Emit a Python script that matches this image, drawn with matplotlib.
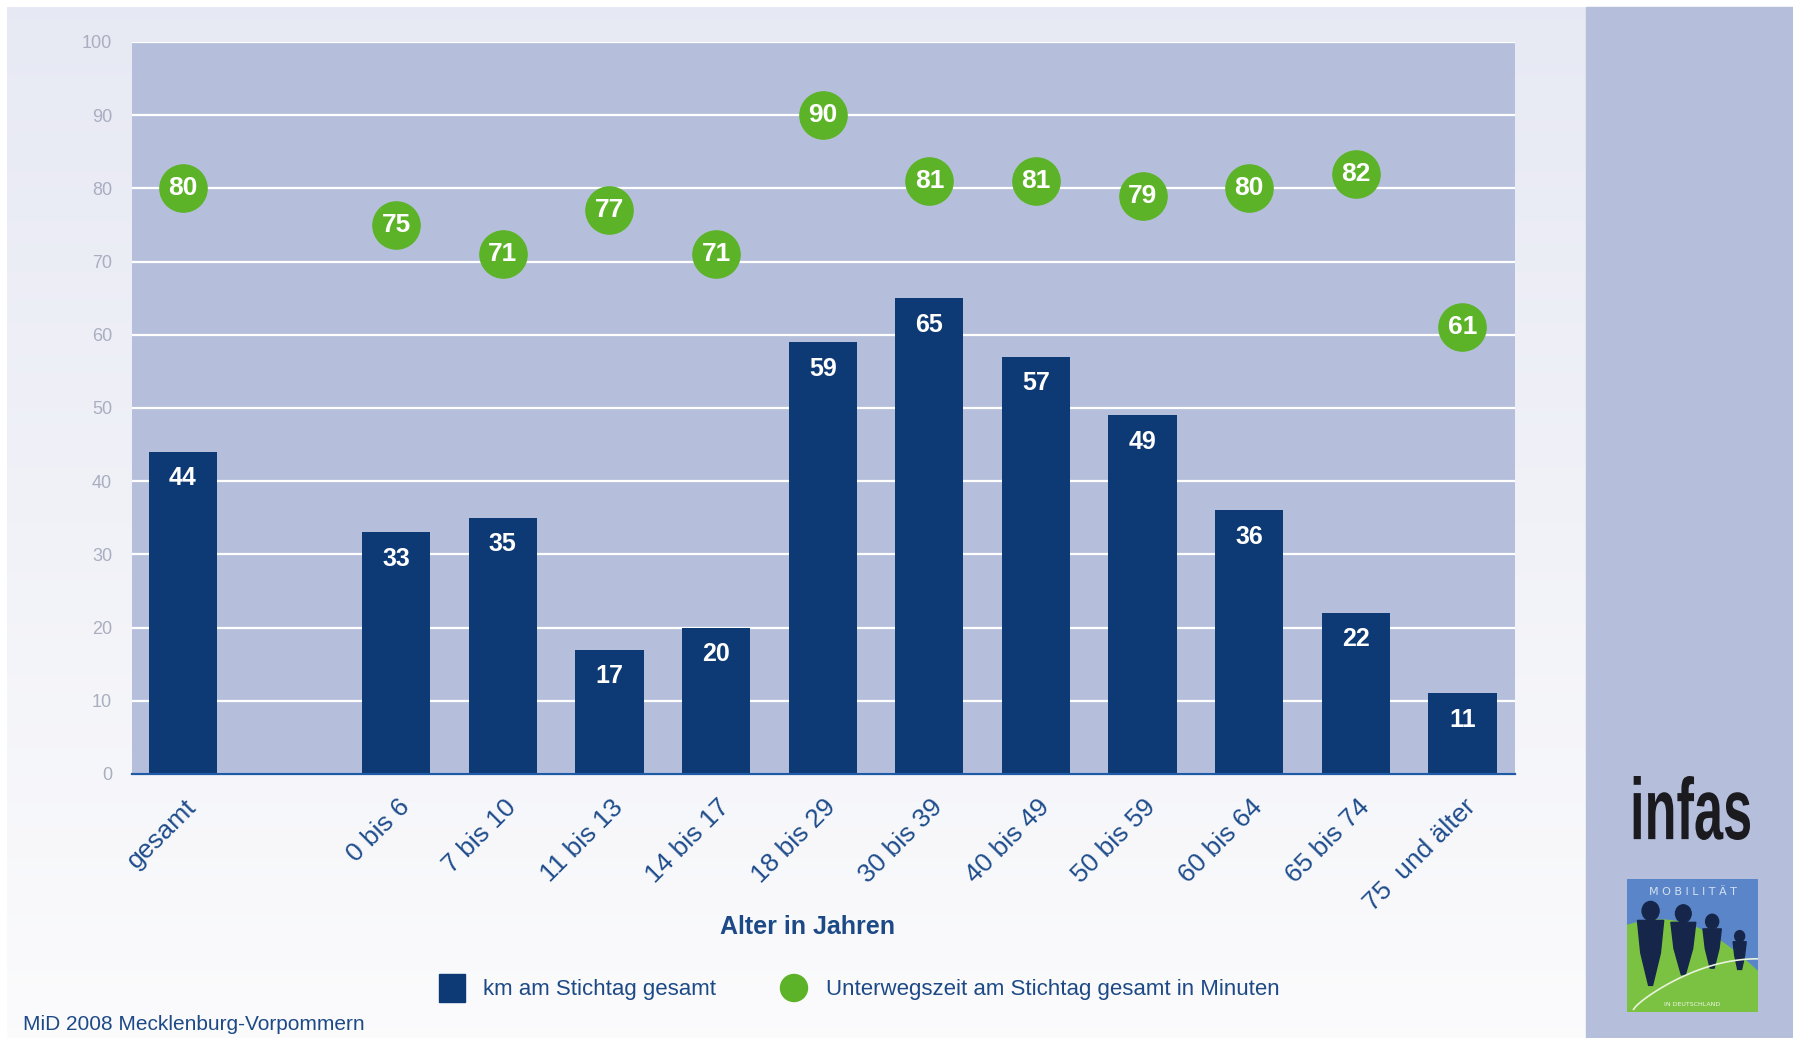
import matplotlib.pyplot as plt
import numpy as np
from matplotlib.patches import Rectangle, Ellipse, Polygon, PathPatch
from matplotlib.textpath import TextPath
from matplotlib.font_manager import FontProperties
from matplotlib.path import Path
import matplotlib.transforms as mtransforms

# Mobilitaet in Deutschland 2008, Mecklenburg-Vorpommern
categories = ["gesamt", "0 bis 6", "7 bis 10", "11 bis 13", "14 bis 17", "18 bis 29",
              "30 bis 39", "40 bis 49", "50 bis 59", "60 bis 64", "65 bis 74", "75  und älter"]
slots = [0, 2, 3, 4, 5, 6, 7, 8, 9, 10, 11, 12]
km_total = [44, 33, 35, 17, 20, 59, 65, 57, 49, 36, 22, 11]
minutes_total = [80, 75, 71, 77, 71, 90, 81, 81, 79, 80, 82, 61]

NAVY = "#0d3a74"
GREEN = "#5cb328"
PLOT_BG = "#b5bfdc"
TEXT_BLUE = "#1d4a86"
FONT = ["Liberation Sans Narrow", "Liberation Sans", "DejaVu Sans"]

plt.rcParams["font.family"] = FONT

W, H = 1793, 1038
fig = plt.figure(figsize=(W / 100, H / 100), dpi=100)
fig.patch.set_facecolor("white")

# background: lavender panel fading to white, blue strip on the right
bg = fig.add_axes([0, 0, 1, 1], zorder=-5)
bg.axis("off")
top = np.array([0.905, 0.913, 0.955])
bottom = np.array([0.985, 0.985, 0.99])
t = np.linspace(0, 1, 256)[:, None]
grad = (top[None, :] * (1 - t) + bottom[None, :] * t)[:, None, :]
bg.imshow(grad, extent=[7, 1586, H, 7], aspect="auto", interpolation="bicubic")
bg.add_patch(Rectangle((1586, 7), W - 1586, H - 7, color=PLOT_BG, zorder=2))
bg.set_xlim(0, W)
bg.set_ylim(H, 0)

# main chart
ax = fig.add_axes([131.5 / W, 264 / H, (1515 - 131.5) / W, 732 / H])
ax.set_facecolor(PLOT_BG)
ax.set_xlim(-0.483, 12.493)
ax.set_ylim(0, 100)
ax.set_yticks(range(0, 101, 10))
ax.yaxis.grid(True, color="white", linewidth=1.6)
ax.set_axisbelow(True)
for side in ["top", "right", "left"]:
    ax.spines[side].set_visible(False)
ax.spines["bottom"].set_color("#1f5aa6")
ax.spines["bottom"].set_linewidth(1.6)
ax.tick_params(axis="both", length=0)
ax.tick_params(axis="y", labelsize=13, labelcolor="#a9aec0", pad=14)

ax.bar(slots, km_total, width=0.64, color=NAVY, zorder=2)
for x, v in zip(slots, km_total):
    ax.annotate(str(v), (x, v), xytext=(0, -19), textcoords="offset points",
                ha="center", va="center", color="white", fontsize=18,
                fontweight="bold", zorder=3)

ax.plot(slots, minutes_total, linestyle="none", marker="o", markersize=34,
        color=GREEN, zorder=4, clip_on=False)
for x, v in zip(slots, minutes_total):
    ax.text(x, v, str(v), ha="center", va="center", color="white", fontsize=19,
            fontweight="bold", zorder=5)

ax.set_xticks(slots)
ax.set_xticklabels(categories, rotation=45, ha="right", va="top",
                   rotation_mode="anchor", fontsize=19, color="#1f4d8c")
shift = mtransforms.ScaledTranslation(1 / 100, -16 / 100, fig.dpi_scale_trans)
for lbl in ax.get_xticklabels():
    lbl.set_transform(lbl.get_transform() + shift)

fig.text(807 / W, 1 - 927 / H, "Alter in Jahren", ha="center", va="center",
         fontsize=18, fontweight="bold", color=TEXT_BLUE)

# legend
fig.patches.append(Rectangle((439 / W, 1 - 1002 / H), 26 / W, 28 / H,
                             transform=fig.transFigure, color=NAVY))
fig.text(483 / W, 1 - 989 / H, "km am Stichtag gesamt", ha="left", va="center",
         fontsize=16, color=TEXT_BLUE)
fig.patches.append(Ellipse((794 / W, 1 - 988 / H), 27 / W, 27 / H,
                           transform=fig.transFigure, color=GREEN))
fig.text(826 / W, 1 - 989 / H, "Unterwegszeit am Stichtag gesamt in Minuten",
         ha="left", va="center", fontsize=16, color=TEXT_BLUE)

fig.text(23 / W, 1 - 1024 / H, "MiD 2008 Mecklenburg-Vorpommern", ha="left",
         va="center", fontsize=15, color=TEXT_BLUE)

# infas wordmark, squeezed into its box
tp = TextPath((0, 0), "infas", size=1,
              prop=FontProperties(family=FONT, weight="bold"))
verts = tp.vertices.copy()
x0, y0 = verts.min(axis=0)
x1, y1 = verts.max(axis=0)
box = (1630, 1750, 840, 776)
verts[:, 0] = (box[0] + (verts[:, 0] - x0) / (x1 - x0) * (box[1] - box[0])) / W
verts[:, 1] = 1 - (box[2] - (verts[:, 1] - y0) / (y1 - y0) * (box[2] - box[3])) / H
fig.patches.append(PathPatch(Path(verts, tp.codes), transform=fig.transFigure,
                             color="#1b1b1f", lw=0))

# Mobilitaet in Deutschland emblem
lg = fig.add_axes([1627 / W, 1 - 1012 / H, 131 / W, 133 / H])
lg.set_xlim(0, 1)
lg.set_ylim(0, 1)
lg.axis("off")
lg.add_patch(Rectangle((0, 0), 1, 1, color="#5a86c9"))
hx = np.linspace(0, 1, 60)
hill = 0.6 + 0.12 * np.sin(np.pi * (hx + 0.15) / 1.1) - 0.28 * hx ** 2
lg.add_patch(Polygon(np.column_stack([np.r_[hx, 1, 0], np.r_[hill, 0, 0]]),
                     color="#7cc242"))
cx = np.linspace(0.05, 1, 60)
lg.plot(cx, 0.02 + 0.38 * np.sin(np.pi / 2 * (cx - 0.05) / 0.95) ** 0.8,
        color="#e9f3dc", lw=1.2)
people = [(0.18, 0.76, 0.065, 0.2, 0.2), (0.43, 0.74, 0.06, 0.19, 0.28),
          (0.65, 0.68, 0.05, 0.14, 0.33), (0.86, 0.57, 0.038, 0.1, 0.32)]
for px, py, r, sw, foot in people:
    lg.add_patch(Ellipse((px, py), 2 * r, 2 * r * 1.1, color="#16264a"))
    sh = py - r * 1.1
    lg.add_patch(Polygon([(px - sw / 2, sh), (px + sw / 2, sh),
                          (px + sw / 2 * 0.75, sh - (sh - foot) * 0.5),
                          (px + 0.015, foot), (px - 0.015, foot),
                          (px - sw / 2 * 0.75, sh - (sh - foot) * 0.5)],
                         color="#16264a"))
lg.text(0.5, 0.9, "M O B I L I T Ä T", ha="center", va="center", fontsize=8,
        color="#d4e0f2", family=["DejaVu Sans"])
lg.text(0.5, 0.06, "IN DEUTSCHLAND", ha="center", va="center", fontsize=4.5,
        color="#eef6e4", family=["DejaVu Sans"])

fig.savefig("out.png", dpi=100)
